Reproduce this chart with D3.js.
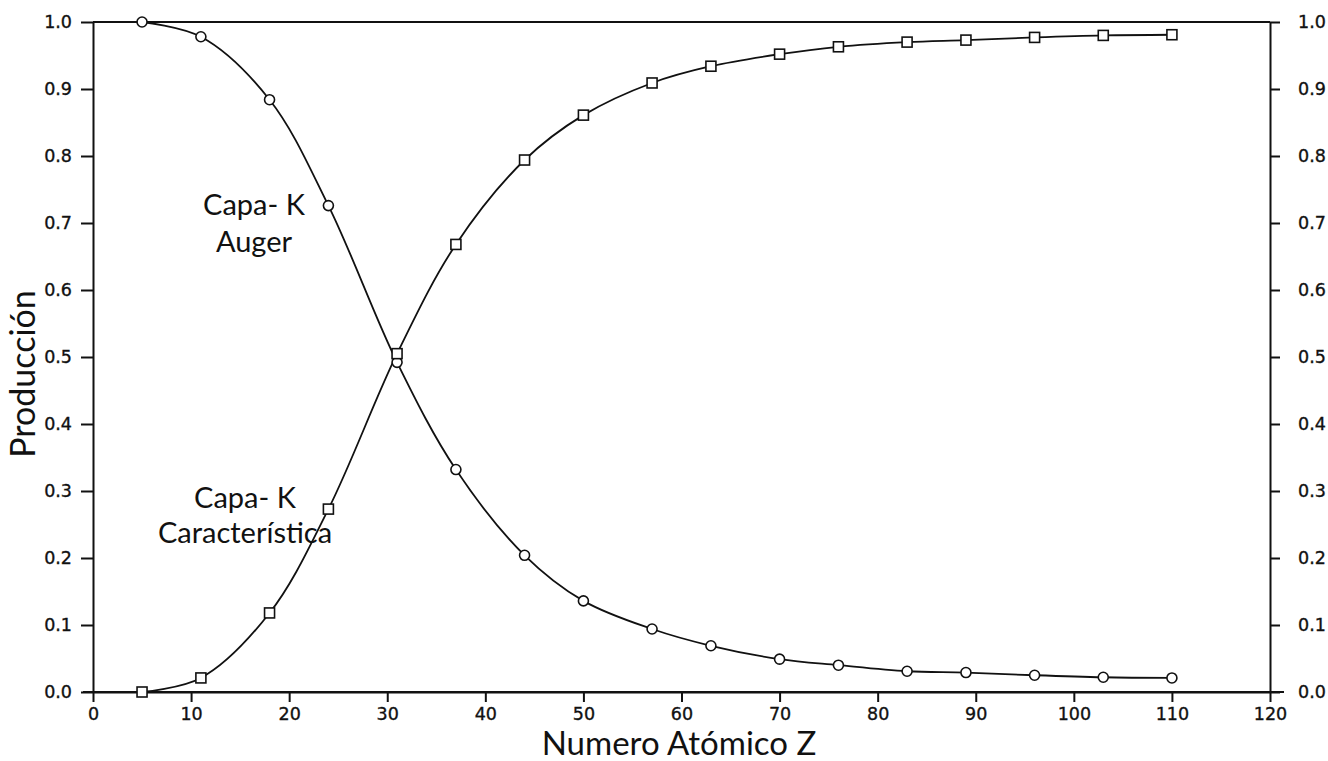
<!DOCTYPE html>
<html>
<head>
<meta charset="utf-8">
<script src="https://cdn.jsdelivr.net/npm/d3@7/dist/d3.min.js"></script>
<style>
  html, body { margin: 0; padding: 0; background: #fff; }
  svg { display: block; }
  .tick text { font-family: "DejaVu Sans", sans-serif; font-size: 17.5px; fill: #111; stroke: #111; stroke-width: 0.35px; }
  .lbl { font-family: Lato, "Noto Sans", sans-serif; fill: #111; }
</style>
</head>
<body>
<svg id="chart" width="1328" height="761"></svg>
<script>
// Atomic number of the sampled elements
const atomicNumber = [5, 11, 18, 24, 31, 37, 44, 50, 57, 63, 70, 76, 83, 89, 96, 103, 110];
// K-shell Auger yield (circles)
const augerYield = [1.0, 0.978, 0.884, 0.726, 0.492, 0.332, 0.204, 0.136, 0.094, 0.069, 0.049, 0.040, 0.031, 0.029, 0.025, 0.022, 0.021];
// K-shell characteristic (fluorescence) yield (squares)
const charYield = [0.0, 0.021, 0.118, 0.273, 0.505, 0.668, 0.794, 0.861, 0.909, 0.934, 0.952, 0.963, 0.970, 0.973, 0.977, 0.980, 0.981];
const xTicks = [0, 10, 20, 30, 40, 50, 60, 70, 80, 90, 100, 110, 120];
const yTicks = [0, 0.1, 0.2, 0.3, 0.4, 0.5, 0.6, 0.7, 0.8, 0.9, 1.0];

const svg = d3.select("#chart");
const x = d3.scaleLinear().domain([0, 120]).range([93, 1270]);
const y = d3.scaleLinear().domain([0, 1]).range([692, 22]);
const ink = "#111";

// Axes
const gx = svg.append("g").attr("transform", `translate(0,${y(0)})`)
  .call(d3.axisBottom(x).tickValues(xTicks).tickFormat(d3.format("d")).tickSize(10).tickSizeOuter(0).tickPadding(6));
const gyl = svg.append("g").attr("transform", `translate(${x(0)},0)`)
  .call(d3.axisLeft(y).tickValues(yTicks).tickFormat(d3.format(".1f")).tickSize(12).tickSizeOuter(0).tickPadding(9));
const gyr = svg.append("g").attr("transform", `translate(${x(120)},0)`)
  .call(d3.axisRight(y).tickValues(yTicks).tickFormat(d3.format(".1f")).tickSize(10).tickSizeOuter(0).tickPadding(18));
[gx, gyl, gyr].forEach(g => {
  g.selectAll("path.domain, line").attr("stroke", ink).attr("stroke-width", 2);
});
// baseline extends slightly past both vertical axes
svg.append("line").attr("x1", x(0) - 10).attr("x2", x(120) + 14)
  .attr("y1", y(0)).attr("y2", y(0)).attr("stroke", ink).attr("stroke-width", 2);
// top frame line at 1.0
svg.append("line").attr("x1", x(0)).attr("x2", x(120))
  .attr("y1", y(1)).attr("y2", y(1)).attr("stroke", ink).attr("stroke-width", 2);

// Curves
const line = vals => d3.line()
  .x((d, i) => x(atomicNumber[i]))
  .y(d => y(d))
  .curve(d3.curveCatmullRom.alpha(0.5))(vals);

svg.append("path").attr("d", line(augerYield))
  .attr("fill", "none").attr("stroke", ink).attr("stroke-width", 1.8);
svg.append("path").attr("d", line(charYield))
  .attr("fill", "none").attr("stroke", ink).attr("stroke-width", 1.8);

// Markers
svg.append("g").selectAll("circle").data(augerYield).join("circle")
  .attr("cx", (d, i) => x(atomicNumber[i])).attr("cy", d => y(d)).attr("r", 5)
  .attr("fill", "#fff").attr("stroke", ink).attr("stroke-width", 1.6);
svg.append("g").selectAll("rect").data(charYield).join("rect")
  .attr("x", (d, i) => x(atomicNumber[i]) - 5).attr("y", d => y(d) - 5)
  .attr("width", 10).attr("height", 10)
  .attr("fill", "#fff").attr("stroke", ink).attr("stroke-width", 1.6);

// Axis titles
svg.append("text").attr("class", "lbl").attr("x", 679).attr("y", 755)
  .attr("text-anchor", "middle").attr("font-size", 33).text("Numero Atómico Z");
svg.append("text").attr("class", "lbl")
  .attr("transform", `translate(35,374) rotate(-90)`)
  .attr("text-anchor", "middle").attr("font-size", 34).text("Producción");

// Curve annotations
const note = (cx, cy, lines, gap) => {
  const t = svg.append("text").attr("class", "lbl").attr("text-anchor", "middle").attr("font-size", 29);
  lines.forEach((s, i) => t.append("tspan").attr("x", cx).attr("y", cy + i * gap).text(s));
};
note(254, 215, ["Capa- K", "Auger"], 37);
note(245, 508, ["Capa- K", "Característica"], 35);
</script>
</body>
</html>
